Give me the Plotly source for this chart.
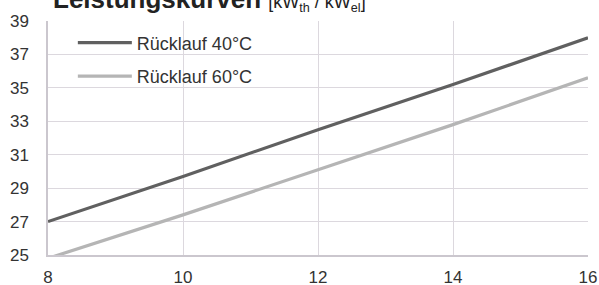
import plotly.graph_objects as go

x_vals = [8, 10, 12, 14, 16]
ruecklauf_40 = [27.0, 29.7, 32.5, 35.2, 38.0]
ruecklauf_60 = [24.8, 27.4, 30.1, 32.8, 35.6]
series_names = ["Rücklauf 40°C", "Rücklauf 60°C"]
y_ticks = [25, 27, 29, 31, 33, 35, 37, 39]
x_ticks = [8, 10, 12, 14, 16]

FONT = "Liberation Sans, Arial, Helvetica, sans-serif"

fig = go.Figure()
fig.add_trace(go.Scatter(x=x_vals, y=ruecklauf_40, mode="lines", name=series_names[0],
                         line=dict(color="#606060", width=3.2), legendgroup="a"))
fig.add_trace(go.Scatter(x=x_vals, y=ruecklauf_60, mode="lines", name=series_names[1],
                         line=dict(color="#b5b5b5", width=3.2), legendgroup="b"))

fig.update_layout(
    width=599, height=285,
    margin=dict(l=48, r=11, t=21, b=30, autoexpand=False),
    paper_bgcolor="white", plot_bgcolor="white",
    font=dict(family=FONT, size=17, color="#333333"),
    showlegend=True,
    legend=dict(x=0.046, y=0.985, xanchor="left", yanchor="top",
                bgcolor="rgba(0,0,0,0)", itemwidth=54,
                traceorder="grouped", tracegroupgap=7,
                font=dict(size=18, color="#333333")),
    title=dict(
        text="<b>Leistungskurven</b> <span style='font-size:18px'>[kW<sub>th</sub> / kW<sub>el</sub>]</span>",
        xref="container", yref="container", x=53/599, xanchor="left",
        y=1 - 8/285, yanchor="bottom",
        font=dict(family=FONT, size=26, color="#222222")),
    xaxis=dict(range=[8, 16], tickvals=x_ticks, showgrid=True, gridcolor="#dcd8de",
               gridwidth=1.3, showline=True, linecolor="#cbc7ce", linewidth=1.5,
               zeroline=False, ticks="", ticklabelstandoff=6, automargin=False),
    yaxis=dict(range=[25, 39], tickvals=y_ticks, showgrid=True, gridcolor="#dcd8de",
               gridwidth=1.3, showline=True, linecolor="#cbc7ce", linewidth=1.5,
               zeroline=False, ticks="", ticklabelstandoff=14, automargin=False),
)

fig.write_html("out.html", config={"displayModeBar": False},
               post_script="document.body.style.margin='0';document.body.style.padding='0';"
                           "document.documentElement.style.overflow='hidden';"
                           "document.body.style.overflow='hidden';")
